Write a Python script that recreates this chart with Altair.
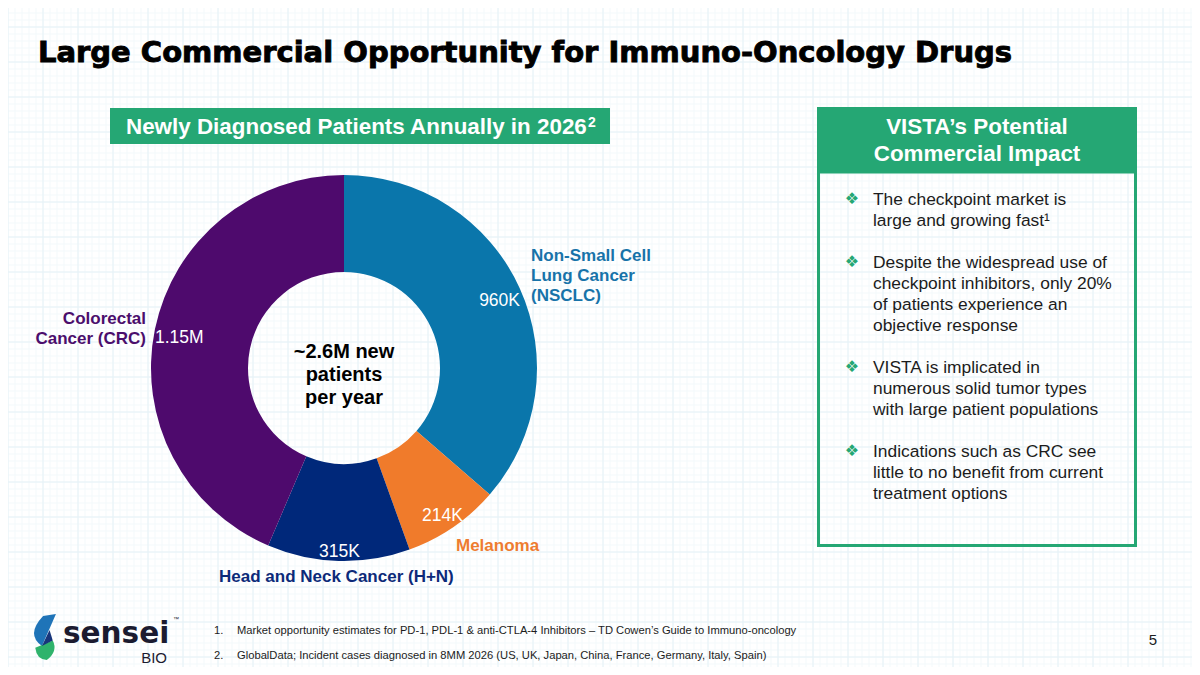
import altair as alt
import pandas as pd

# ---------------- data ----------------
categories = ["Non-Small Cell Lung Cancer (NSCLC)", "Melanoma",
              "Head and Neck Cancer (H+N)", "Colorectal Cancer (CRC)"]
patients_k = [960, 214, 315, 1150]
value_labels = ["960K", "214K", "315K", "1.15M"]
category_label_lines = [["Non-Small Cell", "Lung Cancer", "(NSCLC)"],
                        ["Melanoma"],
                        ["Head and Neck Cancer (H+N)"],
                        ["Colorectal", "Cancer (CRC)"]]
center_lines = ["~2.6M new", "patients", "per year"]

title_text = "Large Commercial Opportunity for Immuno-Oncology Drugs"
left_header = "Newly Diagnosed Patients Annually in 2026"
left_header_sup = "2"
right_header = ["VISTA\u2019s Potential", "Commercial Impact"]
bullets = [
    ["The checkpoint market is", "large and growing fast\u00b9"],
    ["Despite the widespread use of", "checkpoint inhibitors, only 20%",
     "of patients experience an", "objective response"],
    ["VISTA is implicated in", "numerous solid tumor types",
     "with large patient populations"],
    ["Indications such as CRC see", "little to no benefit from current",
     "treatment options"],
]
footnote_nums = ["1.", "2."]
footnotes = [
    "Market opportunity estimates for PD-1, PDL-1 & anti-CTLA-4 Inhibitors \u2013 TD Cowen\u2019s Guide to Immuno-oncology",
    "GlobalData; Incident cases diagnosed in 8MM 2026 (US, UK, Japan, China, France, Germany, Italy, Spain)",
]
page_number = "5"

# ---------------- styles / layout ----------------
slice_colors = ["#0a76ab", "#f07b2b", "#00287a", "#4e0a6d"]
label_colors = ["#1773a9", "#ee7c30", "#0c2a79", "#4b0e6c"]
GREEN = "#25a774"
FONT = "Liberation Sans"
TXT = "#1c1c1c"

# plot area = page pixels 8..1192 x 8..667 (page coordinates used directly)
xs = alt.Scale(domain=[8, 1192], nice=False, zero=False)
ys = alt.Scale(domain=[8, 667], nice=False, zero=False, reverse=True)


def X(f="x"):
    return alt.X(f"{f}:Q", scale=xs, axis=None)


def Y(f="y"):
    return alt.Y(f"{f}:Q", scale=ys, axis=None)


def text_layer(rows, size, color, weight="normal", align="left", font=FONT,
               baseline="alphabetic", **kw):
    df = pd.DataFrame(rows, columns=["t", "x", "y"])
    return alt.Chart(df).mark_text(
        align=align, baseline=baseline, font=font, fontSize=size,
        fontWeight=weight, color=color, **kw
    ).encode(x=X(), y=Y(), text="t:N")


layers = []

# background grid (decorative)
minor_x = list(range(8, 1192, 7))
minor_y = list(range(13, 667, 7))
major_x = list(range(8, 1192, 35))
major_y = list(range(27, 667, 35))
layers.append(alt.Chart(pd.DataFrame({"gx": minor_x})).mark_rule(
    color="#f3f9fb", strokeWidth=1).encode(x=X("gx")))
layers.append(alt.Chart(pd.DataFrame({"gy": minor_y})).mark_rule(
    color="#f3f9fb", strokeWidth=1).encode(y=Y("gy")))
layers.append(alt.Chart(pd.DataFrame({"gx": major_x})).mark_rule(
    color="#e6f2f7", strokeWidth=1).encode(x=X("gx")))
layers.append(alt.Chart(pd.DataFrame({"gy": major_y})).mark_rule(
    color="#e6f2f7", strokeWidth=1).encode(y=Y("gy")))

# green header boxes
boxes = pd.DataFrame({"x": [110, 817], "x2": [610, 1137],
                      "y": [108, 107], "y2": [144, 172]})
layers.append(alt.Chart(boxes).mark_rect(color=GREEN).encode(
    x=X(), x2="x2:Q", y=Y(), y2="y2:Q"))
outline = pd.DataFrame({"x": [818.5], "x2": [1135.5], "y": [172], "y2": [545.5]})
layers.append(alt.Chart(outline).mark_rect(
    fillOpacity=0, stroke=GREEN, strokeWidth=3).encode(
    x=X(), x2="x2:Q", y=Y(), y2="y2:Q"))

# donut
donut_df = pd.DataFrame({"cat": categories, "v": patients_k,
                         "ord": list(range(len(categories)))})
layers.append(alt.Chart(donut_df).mark_arc(innerRadius=96, outerRadius=193).encode(
    theta=alt.Theta("v:Q", stack=True),
    order=alt.Order("ord:Q"),
    color=alt.Color("cat:N", scale=alt.Scale(domain=categories, range=slice_colors),
                    legend=None),
    x=alt.XDatum(344, type="quantitative", scale=xs, axis=None),
    y=alt.YDatum(368, type="quantitative", scale=ys, axis=None),
))

# title
layers.append(text_layer([[title_text, 38, 62]], 29, "#000000", "bold",
                         font="DejaVu Sans", stroke="#000000", strokeWidth=0.9))

# headers
layers.append(text_layer([[left_header, 126, 134]], 22.4, "white", "bold"))
layers.append(text_layer([[left_header_sup, 588, 127]], 14, "white", "bold"))
layers.append(text_layer([[right_header[0], 977, 134], [right_header[1], 977, 161]],
                         22.4, "white", "bold", align="center"))

# bullets
rows, sym_rows = [], []
yb = 205
for group in bullets:
    sym_rows.append(["\u2756", 852, yb - 6])
    for line in group:
        rows.append([line, 873, yb])
        yb += 21
    yb += 21
layers.append(text_layer(rows, 17.4, TXT))
layers.append(text_layer(sym_rows, 16, GREEN, align="center", baseline="middle",
                         font="DejaVu Sans"))

# donut labels
cat_pos = [(531, 261, "left"), (456, 551, "left"), (219, 582, "left"),
           (146, 324, "right")]
for lines, (cx, cy, al), col in zip(category_label_lines, cat_pos, label_colors):
    layers.append(text_layer([[l, cx, cy + 20 * i] for i, l in enumerate(lines)],
                             17, col, "bold", align=al))
val_pos = [(520, 306, "right"), (422, 521, "left"), (319, 557, "left"),
           (155, 343, "left")]
layers.append(alt.layer(*[
    text_layer([[lab, vx, vy]], 17.5, "white", align=al)
    for lab, (vx, vy, al) in zip(value_labels, val_pos)]))
layers.append(text_layer([[l, 344, 358 + 23 * i] for i, l in enumerate(center_lines)],
                         20, "#000000", "bold", align="center"))

# footnotes
layers.append(text_layer([[n, 214, 634 + 25 * i] for i, n in enumerate(footnote_nums)],
                         11.2, TXT))
layers.append(text_layer([[f, 237, 634 + 25 * i] for i, f in enumerate(footnotes)],
                         11.2, TXT))
layers.append(text_layer([[page_number, 1153, 645]], 15, TXT, align="center"))

# logo
logo_df = pd.DataFrame({"x": [44, 44, 44], "y": [637, 637, 637],
                        "part": ["blue", "green", "dark"]})
logo_shapes = {
    "blue": ("M -0.04 -0.91 L 0.52 -1 L -0.09 0.39 Q -0.8 -0.1 -0.04 -0.91 Z", "#1f74b8"),
    "green": ("M -0.38 0.47 L 0.38 0.15 Q 0.62 0.62 0.12 1.0 Q -0.32 0.98 -0.38 0.47 Z", "#2fb36c"),
    "dark": ("M -0.09 0.39 L 0.24 -0.3 L 0.38 0.15 Z", "#17357a"),
}
for part, (path, col) in logo_shapes.items():
    layers.append(alt.Chart(logo_df[logo_df.part == part]).mark_point(
        shape=path, size=2116, filled=True, color=col, opacity=1, strokeWidth=0
    ).encode(x=X(), y=Y()))
layers.append(text_layer([["sensei", 63, 643]], 29.5, "#1b1b30", "bold",
                         font="DejaVu Sans"))
layers.append(text_layer([["BIO", 167, 663]], 15, "#1b1b30", align="right"))
layers.append(text_layer([["\u2122", 176, 621]], 6, "#1b1b30", align="center"))

chart = alt.layer(*layers).properties(
    width=1184, height=659, padding=0,
    autosize=alt.AutoSizeParams(type="none"), background="white"
).configure_view(stroke=None)

chart.save("out.html", embed_options={"renderer": "svg", "actions": False})
